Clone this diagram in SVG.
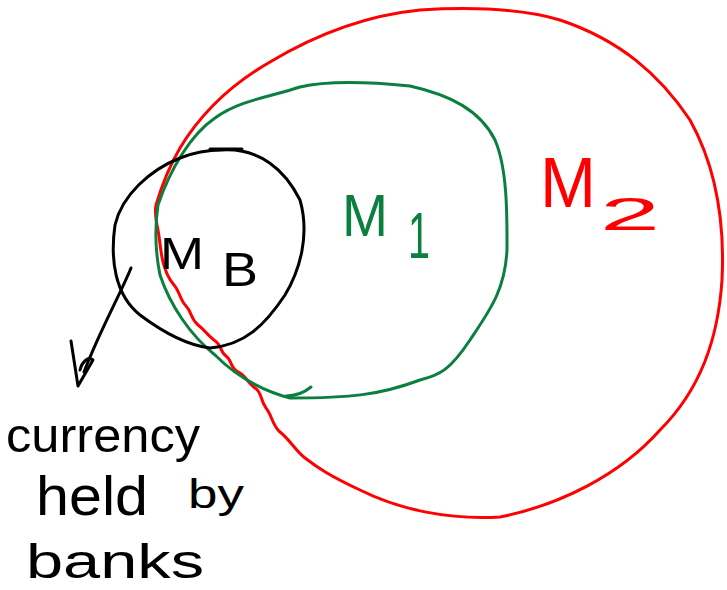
<svg xmlns="http://www.w3.org/2000/svg" width="727" height="590" viewBox="0 0 727 590">
<style>
.ink{fill:none;stroke-width:3;stroke-linecap:round;stroke-linejoin:round}
.t{font-family:"Liberation Sans","DejaVu Sans",sans-serif;font-weight:normal}
.blk{stroke:#000}
.red{stroke:#ff0000}
.grn{stroke:#0b7f3f}
</style>
<rect width="727" height="590" fill="#fff"/>
<g id="m2">
<path class="ink red" d="M156 205 C162 185 170 165 180 148 C200 115 230 85 270 62 C320 32 370 15 420 10 C470 7 520 8 560 20 C620 40 660 75 690 120 C715 165 725 220 722 280 C718 340 700 390 660 430 C620 475 560 505 500 517 C450 520 400 510 360 490 C330 476 318 468 305 458 C295 450 290 440 280 432 C272 425 272 415 266 408 C260 400 262 392 255 388 C248 383 245 375 238 372 C230 368 232 360 226 356 C220 352 222 345 214 340 C206 334 205 330 198 325 C190 318 192 312 186 306 C180 300 180 292 174 285 C168 278 166 272 163 262 C160 250 160 238 157 225 C155 215 155 210 156 205 Z"/>
<text class="t" x="540" y="207" font-size="70" fill="#ff0000" textLength="56" lengthAdjust="spacingAndGlyphs">M</text>
<text class="t" x="600" y="230" font-size="46" fill="#ff0000" textLength="60" lengthAdjust="spacingAndGlyphs">2</text>
</g>
<g id="m1">
<path class="ink grn" d="M158 205 C170 170 190 135 215 118 C240 100 270 97 300 87 C330 80 370 82 410 86 C450 95 480 110 495 140 C508 170 507 220 507 250 C505 290 490 310 470 340 C450 370 440 375 420 380 C380 395 350 398 290 398 C260 390 235 375 215 355 C190 335 170 305 160 275 C155 250 155 225 158 205 Z"/>
<path class="ink grn" d="M286 396 Q300 396 311 387"/>
<text class="t" x="342" y="236" font-size="60" fill="#0b7f3f" textLength="46" lengthAdjust="spacingAndGlyphs">M</text>
<text class="t" x="408" y="258" font-size="64" fill="#0b7f3f" textLength="22" lengthAdjust="spacingAndGlyphs">1</text>
</g>
<g id="mb">
<path class="ink blk" d="M222 150 C260 148 285 170 300 200 C310 235 300 270 285 295 C265 325 245 345 210 348 C185 345 160 330 140 315 C115 295 110 260 115 225 C122 195 150 170 180 158 C195 152 210 150 222 150 Z"/>
<path class="ink blk" d="M210 149 L242 149"/>
<text class="t" x="160" y="269" font-size="44" fill="#000" textLength="44" lengthAdjust="spacingAndGlyphs">M</text>
<text class="t" x="222" y="286" font-size="48" fill="#000" textLength="36" lengthAdjust="spacingAndGlyphs">B</text>
</g>
<g id="connectors">
<path class="ink blk" d="M131 268 C120 295 100 330 84 372"/>
<path class="ink blk" d="M71 341 L78 386 L93 360 C88 356 82 362 80 370"/>
</g>
<g id="label-currency">
<text class="t" x="6" y="452" font-size="48" fill="#000" textLength="194" lengthAdjust="spacingAndGlyphs">currency</text>
<text class="t" x="36" y="515" font-size="55" fill="#000" textLength="112" lengthAdjust="spacingAndGlyphs">held</text>
<text class="t" x="188" y="508" font-size="40" fill="#000" textLength="56" lengthAdjust="spacingAndGlyphs">by</text>
<text class="t" x="26" y="578" font-size="48" fill="#000" textLength="178" lengthAdjust="spacingAndGlyphs">banks</text>
</g>
</svg>
